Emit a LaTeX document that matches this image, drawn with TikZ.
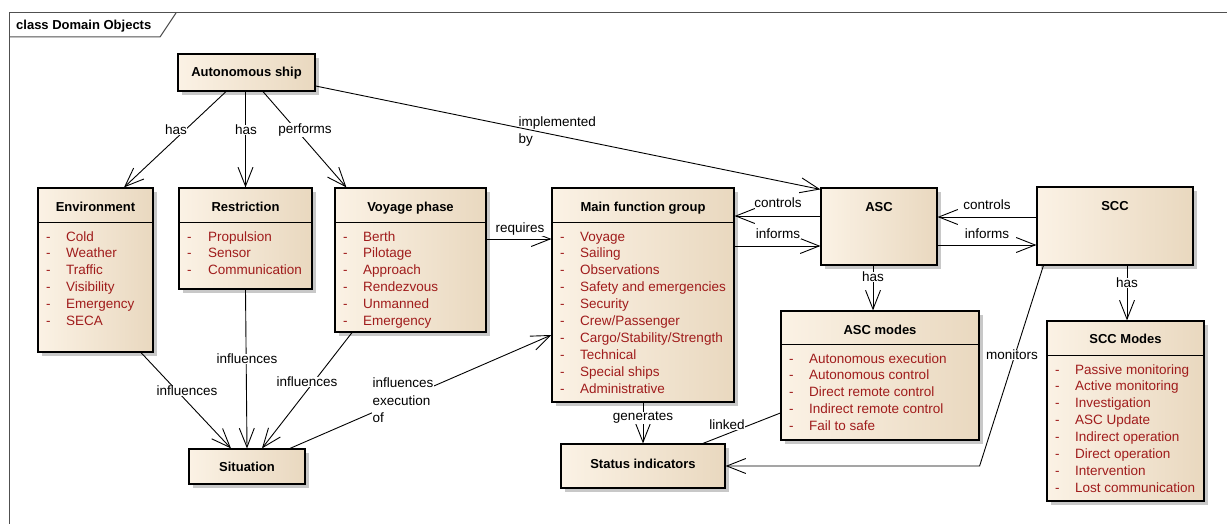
\documentclass[tikz,border=0pt]{standalone}
\usepackage{fontspec}
\setmainfont{Liberation Sans}
\usetikzlibrary{arrows.meta,shadows}
\definecolor{boxL}{HTML}{FBF2E5}
\definecolor{boxR}{HTML}{E9D8BF}
\definecolor{itemc}{HTML}{A01C1C}
\definecolor{shadowc}{HTML}{C8C8C8}
\definecolor{framec}{HTML}{505050}
\newcommand\classitems[5]{%
  \foreach \t [count=\i] in {#5} {
    \node[item] (#1d\i) at (#2, {#4+1.5+16.9*(\i-1)}) {-};
    \node[item] (#1t\i) at (#3, {#4+1.5+16.9*(\i-1)}) {\t};
  }}
\begin{document}
\begin{tikzpicture}[x=1pt,y=-1pt,
  cls/.style={draw=black, line width=1.2pt, left color=boxL, right color=boxR, inner sep=0pt,
    drop shadow={shadow xshift=4pt, shadow yshift=-4pt, fill=shadowc, opacity=1}},
  hdr/.style={font=\bfseries\fontsize{13}{15}\selectfont, inner sep=0pt, text height=9.5pt, text depth=2.5pt},
  item/.style={font=\fontsize{13.5}{16}\selectfont, text=itemc, inner sep=0pt, anchor=west,
    text height=9.5pt, text depth=2.5pt},
  lbl/.style={font=\fontsize{13.5}{17.5}\selectfont, fill=white, inner sep=0.5pt},
  lbltxt/.style={font=\fontsize{13.5}{17.5}\selectfont, inner sep=0.5pt},
  conn/.style={line width=0.9pt},
  arr/.style={conn, -{Straight Barb[length=19pt,width=15pt,line width=0.9pt]}},
  divl/.style={line width=1.2pt},
  frame/.style={draw=framec, line width=1pt}]
\useasboundingbox (0,0) rectangle (1227,524);
\fill[white] (0,0) rectangle (1227,524);

% frame
\draw[frame] (9,524) -- (9,13) -- (1227,13);
\draw[frame] (9,37) -- (160,37) -- (176,13);
\node[hdr, anchor=west] (title) at (16,26) {class Domain Objects};

% classes
\node[cls, minimum width=137pt, minimum height=37pt] (ship) at (246.5,72.5) {};
\node[hdr] (shiph) at ([yshift=-1pt]ship.center) {Autonomous ship};

\node[cls, minimum width=115pt, minimum height=164pt] (env) at (95.5,270) {};
\node[hdr] (envh) at ([yshift=-20.5pt]env.north) {Environment};
\draw[divl] ([yshift=-35pt]env.north west) -- ([yshift=-35pt]env.north east);
\classitems{env}{46}{66}{236}{Cold,Weather,Traffic,Visibility,Emergency,SECA}

\node[cls, minimum width=133pt, minimum height=101pt] (restr) at (245.5,238.5) {};
\node[hdr] (restrh) at ([yshift=-20.5pt]restr.north) {Restriction};
\draw[divl] ([yshift=-35pt]restr.north west) -- ([yshift=-35pt]restr.north east);
\classitems{restr}{187}{208}{236}{Propulsion,Sensor,Communication}

\node[cls, minimum width=151pt, minimum height=144pt] (voy) at (410.5,260) {};
\node[hdr] (voyh) at ([yshift=-20.5pt]voy.north) {Voyage phase};
\draw[divl] ([yshift=-35pt]voy.north west) -- ([yshift=-35pt]voy.north east);
\classitems{voy}{343}{363}{236}{Berth,Pilotage,Approach,Rendezvous,Unmanned,Emergency}

\node[cls, minimum width=182pt, minimum height=214pt] (mfg) at (643,295) {};
\node[hdr] (mfgh) at ([yshift=-20.5pt]mfg.north) {Main function group};
\draw[divl] ([yshift=-35pt]mfg.north west) -- ([yshift=-35pt]mfg.north east);
\classitems{mfg}{560}{580}{236}{Voyage,Sailing,Observations,Safety and emergencies,Security,Crew/Passenger,Cargo/Stability/Strength,Technical,Special ships,Administrative}

\node[cls, minimum width=116pt, minimum height=77pt] (asc) at (879,226.5) {};
\node[hdr] (asch) at ([yshift=-20.5pt]asc.north) {ASC};

\node[cls, minimum width=156pt, minimum height=78pt] (scc) at (1115,226) {};
\node[hdr] (scch) at ([yshift=-20.5pt]scc.north) {SCC};

\node[cls, minimum width=198pt, minimum height=129pt] (ascm) at (880,375.5) {};
\node[hdr] (ascmh) at ([yshift=-20.5pt]ascm.north) {ASC modes};
\draw[divl] ([yshift=-34pt]ascm.north west) -- ([yshift=-34pt]ascm.north east);
\classitems{ascm}{789}{809}{358}{Autonomous execution,Autonomous control,Direct remote control,Indirect remote control,Fail to safe}

\node[cls, minimum width=157pt, minimum height=180pt] (sccm) at (1125.5,411) {};
\node[hdr] (sccmh) at ([yshift=-19.5pt]sccm.north) {SCC Modes};
\draw[divl] ([yshift=-35pt]sccm.north west) -- ([yshift=-35pt]sccm.north east);
\classitems{sccm}{1055}{1075}{369}{Passive monitoring,Active monitoring,Investigation,ASC Update,Indirect operation,Direct operation,Intervention,Lost communication}

\node[cls, minimum width=116pt, minimum height=35pt] (sit) at (247,466.5) {};
\node[hdr] (sith) at ([yshift=-1pt]sit.center) {Situation};

\node[cls, minimum width=164pt, minimum height=44pt] (stat) at (643,466) {};
\node[hdr] (stath) at ([yshift=1pt]stat.center) {Status indicators};

% connectors
\draw[arr] ([xshift=-20.5pt]ship.south) -- ([xshift=28.5pt]env.north);
\draw[arr] (restr.north |- ship.south) -- (restr.north);
\draw[arr] ([xshift=16.5pt]ship.south) -- ([xshift=12pt]voy.north west);
\draw[arr] ([yshift=-13.5pt]ship.east) -- ([yshift=-2pt]asc.north west);
\draw[arr] ([yshift=21pt]voy.east) -- ([yshift=56pt]mfg.west);
\draw[arr] ([yshift=10.5pt]asc.west) -- ([yshift=79pt]mfg.east);
\draw[arr] ([yshift=49pt]mfg.east) -- ([yshift=-19.5pt]asc.west);
\draw[arr] ([yshift=9pt]scc.west) -- ([yshift=9.5pt]asc.east);
\draw[arr] ([yshift=-18.5pt]asc.east) -- ([yshift=-19pt]scc.west);
\draw[arr] ([xshift=-6pt]asc.south) -- ([xshift=-7pt]ascm.north);
\draw[arr] ([xshift=12pt]scc.south) -- ([xshift=1.5pt]sccm.north);
\draw[arr] ([xshift=45.5pt]env.south) -- ([xshift=-16pt]sit.north);
\draw[arr] (restr.south) -- (sit.north);
\draw[arr] ([xshift=-58.5pt]voy.south) -- ([xshift=15pt]sit.north);
\draw[arr] ([xshift=43pt]sit.north) -- ([yshift=-40pt]mfg.west);
\draw[arr] (mfg.south) -- (stat.north);
\draw[conn] ([yshift=-37.5pt]ascm.west) -- ([xshift=60pt]stat.north);
\draw[arr] ([xshift=7pt]scc.south west) -- (ascm.east |- stat.east) -- (stat.east);

% labels
\node[lbl] (lhas1) at (176,130) {has};
\node[lbl] (lhas2) at (246,130) {has};
\node[lbl] (lperf) at (305,130) {performs};
\node[lbltxt, align=left, anchor=west] (limpl) at (518,131.5) {implemented\\by};
\node[lbl] (lreq) at (520,229) {requires};
\node[lbl] (lctl1) at (778,203) {controls};
\node[lbl] (linf1) at (778,234) {informs};
\node[lbl] (lctl2) at (987,205) {controls};
\node[lbl] (linf2) at (987,234) {informs};
\node[lbl] (lhas3) at (873,277) {has};
\node[lbl] (lhas4) at (1127,283) {has};
\node[lbl] (lmon) at (1012,355) {monitors};
\node[lbl] (linfl1) at (187,391) {influences};
\node[lbl] (linfl2) at (247,359) {influences};
\node[lbl] (linfl3) at (307,382) {influences};
\node[lbl, align=left, anchor=west] (linfl4) at (372,400.5) {influences\\execution\\of};
\node[lbl] (lgen) at (643,418) {generates};
\node[lbl] (llink) at (727,425) {linked};
\end{tikzpicture}
\end{document}
